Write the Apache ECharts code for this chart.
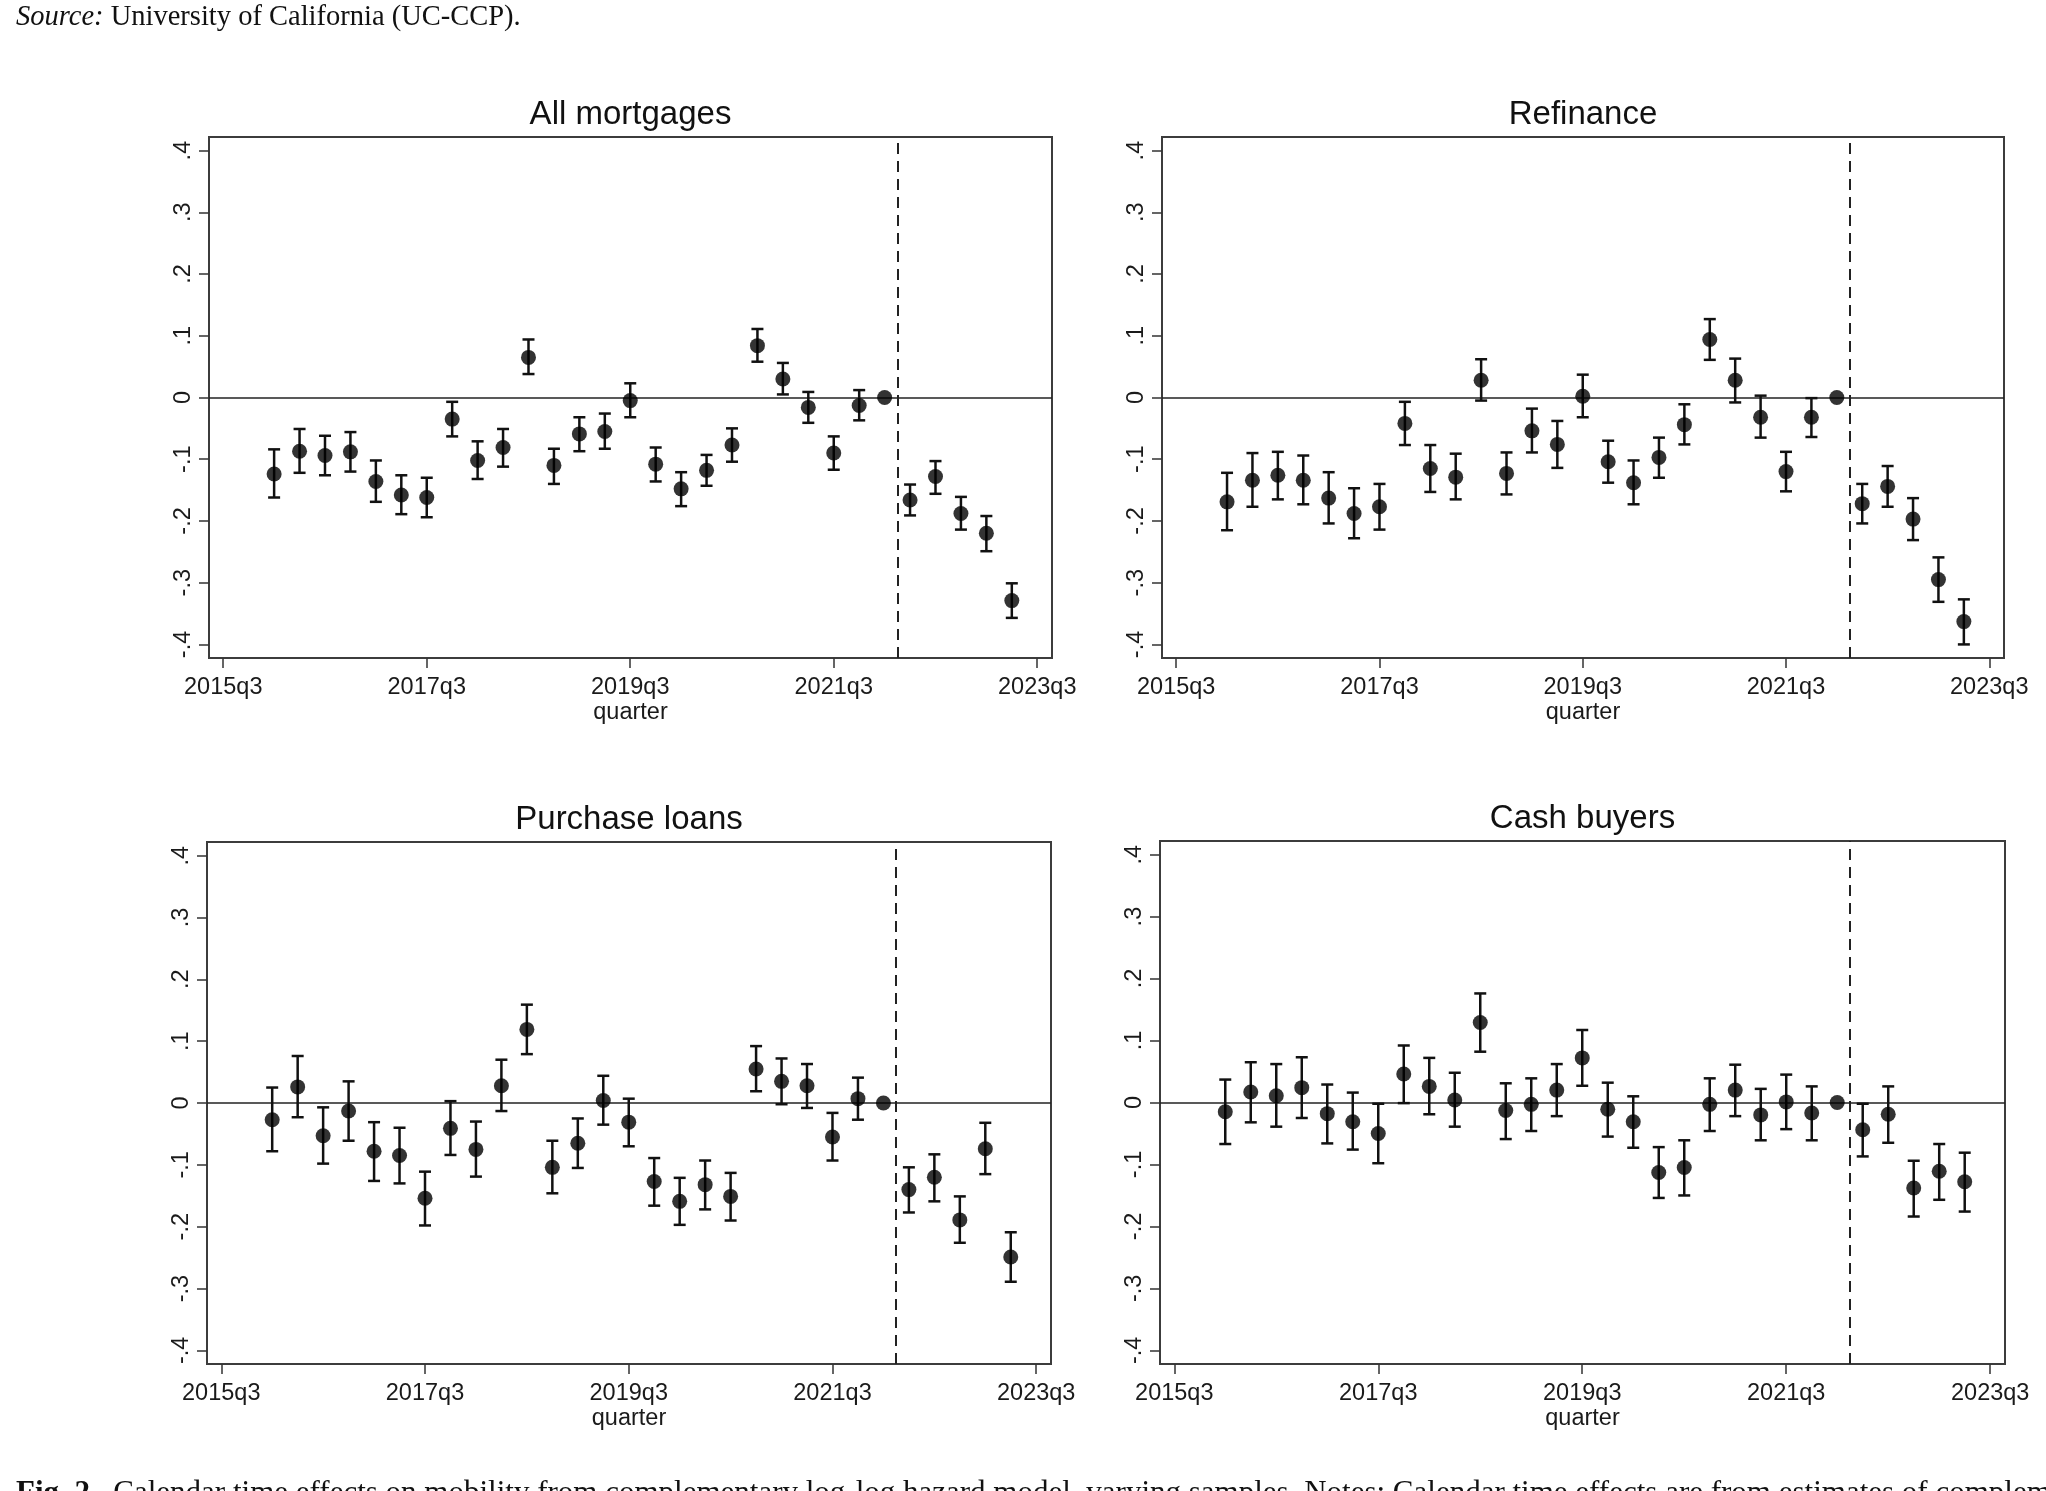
<!DOCTYPE html>
<html>
<head>
<meta charset="utf-8">
<title>Calendar time effects on mobility</title>
<script src="https://cdn.jsdelivr.net/npm/echarts@6/dist/echarts.min.js"></script>
<style>
  html, body { margin: 0; padding: 0; background: #fff; }
  #chart { width: 2046px; height: 1491px; }
</style>
</head>
<body>
<div id="chart"></div>
<script>
// quarters with an estimate (2022q1 is the omitted reference quarter, shown at 0)
const quarters = [
  '2016q1', '2016q2', '2016q3', '2016q4', '2017q1', '2017q2', '2017q3', '2017q4',
  '2018q1', '2018q2', '2018q3', '2018q4', '2019q1', '2019q2', '2019q3', '2019q4',
  '2020q1', '2020q2', '2020q3', '2020q4', '2021q1', '2021q2', '2021q3', '2021q4',
  '2022q1', '2022q2', '2022q3', '2022q4', '2023q1', '2023q2'
]
const refQuarter = '2022q1'

const xTickLabels = ['2015q3', '2017q3', '2019q3', '2021q3', '2023q3']
const yTicks = [-0.4, -0.3, -0.2, -0.1, 0, 0.1, 0.2, 0.3, 0.4]
const yTickLabels = ['-.4', '-.3', '-.2', '-.1', '0', '.1', '.2', '.3', '.4']

// All mortgages
const allEst = [-0.124, -0.087, -0.094, -0.088, -0.136, -0.158, -0.162, -0.035, -0.102, -0.081, 0.065, -0.110, -0.059, -0.055, -0.005, -0.108, -0.148, -0.118, -0.077, 0.084, 0.030, -0.016, -0.090, -0.013, 0, -0.166, -0.128, -0.188, -0.220, -0.329]
const allHi = [-0.084, -0.051, -0.062, -0.056, -0.102, -0.126, -0.130, -0.007, -0.071, -0.051, 0.094, -0.083, -0.032, -0.026, 0.023, -0.081, -0.121, -0.093, -0.050, 0.111, 0.056, 0.009, -0.063, 0.012, null, -0.141, -0.103, -0.161, -0.192, -0.301]
const allLo = [-0.162, -0.122, -0.126, -0.120, -0.169, -0.189, -0.194, -0.063, -0.132, -0.112, 0.038, -0.140, -0.087, -0.083, -0.032, -0.136, -0.176, -0.143, -0.104, 0.058, 0.005, -0.041, -0.117, -0.037, null, -0.191, -0.156, -0.214, -0.249, -0.357]

// Refinance
const refiEst = [-0.169, -0.134, -0.126, -0.134, -0.163, -0.188, -0.177, -0.042, -0.115, -0.129, 0.028, -0.123, -0.054, -0.076, 0.002, -0.104, -0.138, -0.097, -0.044, 0.094, 0.028, -0.032, -0.120, -0.032, 0, -0.172, -0.144, -0.197, -0.295, -0.363]
const refiHi = [-0.122, -0.090, -0.088, -0.094, -0.121, -0.147, -0.140, -0.007, -0.077, -0.091, 0.062, -0.089, -0.018, -0.038, 0.037, -0.070, -0.102, -0.065, -0.011, 0.127, 0.063, 0.003, -0.088, -0.001, null, -0.140, -0.111, -0.163, -0.259, -0.327]
const refiLo = [-0.215, -0.177, -0.165, -0.173, -0.204, -0.228, -0.214, -0.077, -0.153, -0.165, -0.005, -0.157, -0.089, -0.114, -0.032, -0.138, -0.173, -0.130, -0.076, 0.061, -0.008, -0.065, -0.152, -0.064, null, -0.204, -0.177, -0.231, -0.331, -0.400]

// Purchase loans
const purchEst = [-0.027, 0.026, -0.053, -0.013, -0.078, -0.085, -0.154, -0.041, -0.075, 0.028, 0.119, -0.104, -0.065, 0.004, -0.031, -0.127, -0.159, -0.132, -0.151, 0.055, 0.035, 0.028, -0.055, 0.007, 0, -0.140, -0.120, -0.189, -0.074, -0.249]
const purchHi = [0.025, 0.076, -0.007, 0.035, -0.031, -0.040, -0.111, 0.003, -0.030, 0.070, 0.159, -0.061, -0.025, 0.044, 0.007, -0.089, -0.121, -0.093, -0.113, 0.092, 0.072, 0.063, -0.016, 0.041, null, -0.104, -0.083, -0.151, -0.032, -0.209]
const purchLo = [-0.078, -0.023, -0.098, -0.061, -0.126, -0.130, -0.198, -0.084, -0.119, -0.013, 0.079, -0.146, -0.105, -0.035, -0.070, -0.166, -0.197, -0.172, -0.190, 0.019, -0.002, -0.008, -0.093, -0.027, null, -0.177, -0.159, -0.226, -0.115, -0.289]

// Cash buyers
const cashEst = [-0.015, 0.017, 0.011, 0.024, -0.018, -0.031, -0.050, 0.046, 0.026, 0.004, 0.129, -0.013, -0.003, 0.020, 0.072, -0.011, -0.031, -0.113, -0.105, -0.003, 0.020, -0.020, 0.001, -0.017, 0, -0.044, -0.019, -0.138, -0.111, -0.128]
const cashHi = [0.037, 0.065, 0.062, 0.073, 0.029, 0.016, -0.002, 0.092, 0.072, 0.048, 0.176, 0.031, 0.039, 0.062, 0.117, 0.032, 0.010, -0.072, -0.061, 0.039, 0.061, 0.022, 0.045, 0.026, null, -0.002, 0.026, -0.094, -0.067, -0.081]
const cashLo = [-0.067, -0.032, -0.039, -0.025, -0.066, -0.076, -0.098, -0.001, -0.019, -0.039, 0.082, -0.059, -0.046, -0.022, 0.027, -0.055, -0.073, -0.154, -0.150, -0.046, -0.022, -0.061, -0.043, -0.061, null, -0.087, -0.065, -0.184, -0.157, -0.176]

// quarter label -> number of quarters since 2015q3
function qPos (label) {
  const year = +label.slice(0, 4)
  const q = +label.slice(5)
  return (year - 2015) * 4 + (q - 3)
}

const xTickPos = xTickLabels.map(qPos)
const breakPos = qPos(refQuarter) + 0.5

const panels = [
  { title: 'All mortgages', est: allEst, lo: allLo, hi: allHi, grid: { left: 209, top: 137, width: 843, height: 521 } },
  { title: 'Refinance', est: refiEst, lo: refiLo, hi: refiHi, grid: { left: 1162, top: 137, width: 842, height: 521 } },
  { title: 'Purchase loans', est: purchEst, lo: purchLo, hi: purchHi, grid: { left: 207, top: 842, width: 844, height: 522 } },
  { title: 'Cash buyers', est: cashEst, lo: cashLo, hi: cashHi, grid: { left: 1160, top: 841, width: 845, height: 523 } }
]

const labelFont = { fontFamily: 'Liberation Sans', fontSize: 23.5, color: '#1a1a1a' }

function renderErrorBar (params, api) {
  const x = api.value(0)
  const top = api.coord([x, api.value(2)])
  const bot = api.coord([x, api.value(1)])
  const cap = 6
  const style = { stroke: '#111', lineWidth: 2.5, fill: null }
  return {
    type: 'group',
    children: [
      { type: 'line', shape: { x1: top[0], y1: top[1], x2: bot[0], y2: bot[1] }, style: style },
      { type: 'line', shape: { x1: top[0] - cap, y1: top[1], x2: top[0] + cap, y2: top[1] }, style: style },
      { type: 'line', shape: { x1: bot[0] - cap, y1: bot[1], x2: bot[0] + cap, y2: bot[1] }, style: style }
    ]
  }
}

const grids = []
const xAxes = []
const yAxes = []
const series = []
const graphics = []

panels.forEach((p, i) => {
  grids.push(Object.assign({ show: true, borderColor: '#3c3c3c', borderWidth: 2, backgroundColor: '#fff' }, p.grid))
  xAxes.push({
    type: 'value',
    gridIndex: i,
    min: -0.56,
    max: 32.58,
    name: 'quarter',
    nameLocation: 'middle',
    nameGap: 36,
    nameTextStyle: labelFont,
    axisLine: { show: false, onZero: false },
    splitLine: { show: false },
    axisTick: { show: true, length: 10, customValues: xTickPos, lineStyle: { color: '#333', width: 1.5 } },
    axisLabel: Object.assign({
      customValues: xTickPos,
      margin: 18,
      formatter: (v) => xTickLabels[xTickPos.indexOf(v)]
    }, labelFont)
  })
  yAxes.push({
    type: 'value',
    gridIndex: i,
    min: -0.422,
    max: 0.422,
    axisLine: { show: false, onZero: false },
    splitLine: { show: false },
    axisTick: { show: true, length: 10, customValues: yTicks, lineStyle: { color: '#333', width: 1.5 } },
    axisLabel: Object.assign({
      customValues: yTicks,
      rotate: 90,
      margin: 13.5,
      formatter: (v) => yTickLabels[yTicks.indexOf(v)]
    }, labelFont)
  })
  series.push({
    type: 'custom',
    xAxisIndex: i,
    yAxisIndex: i,
    renderItem: renderErrorBar,
    encode: { x: 0, y: [1, 2] },
    data: quarters.map((q, k) => [qPos(q), p.lo[k], p.hi[k]]).filter(d => d[1] != null),
    z: 2
  })
  series.push({
    type: 'scatter',
    xAxisIndex: i,
    yAxisIndex: i,
    symbol: 'circle',
    symbolSize: 15,
    itemStyle: { color: '#000' },
    data: quarters.map((q, k) => [qPos(q), p.est[k]]),
    z: 3,
    markLine: {
      silent: true,
      symbol: 'none',
      label: { show: false },
      z: 1,
      data: [
        { yAxis: 0, lineStyle: { type: 'solid', width: 1.5, color: '#222' } },
        { xAxis: breakPos, lineStyle: { type: [11, 7], width: 2, color: '#222' } }
      ]
    }
  })
  graphics.push({
    type: 'text',
    x: p.grid.left + p.grid.width / 2,
    y: p.grid.top - 22.5,
    style: {
      text: p.title,
      fontFamily: 'Liberation Sans',
      fontSize: 33,
      fill: '#111',
      align: 'center',
      verticalAlign: 'middle'
    }
  })
})

graphics.push({
  type: 'text',
  x: 16,
  y: 18,
  style: {
    text: '{it|Source:} University of California (UC-CCP).',
    fontFamily: 'Liberation Serif',
    fontSize: 28.5,
    fill: '#111',
    verticalAlign: 'middle',
    rich: { it: { fontStyle: 'italic', fontFamily: 'Liberation Serif', fontSize: 28.5, fill: '#111' } }
  }
})
graphics.push({
  type: 'text',
  x: 16,
  y: 1478,
  style: {
    text: '{b|Fig. 2.}  Calendar time effects on mobility from complementary log-log hazard model, varying samples. Notes: Calendar time effects are from estimates of complementary log-log',
    fontFamily: 'Liberation Serif',
    fontSize: 31,
    fill: '#111',
    verticalAlign: 'top',
    rich: { b: { fontWeight: 'bold', fontFamily: 'Liberation Serif', fontSize: 31, fill: '#111' } }
  }
})

const chart = echarts.init(document.getElementById('chart'))
chart.setOption({
  animation: false,
  backgroundColor: '#fff',
  grid: grids,
  xAxis: xAxes,
  yAxis: yAxes,
  series: series,
  graphic: graphics
})
</script>
</body>
</html>
